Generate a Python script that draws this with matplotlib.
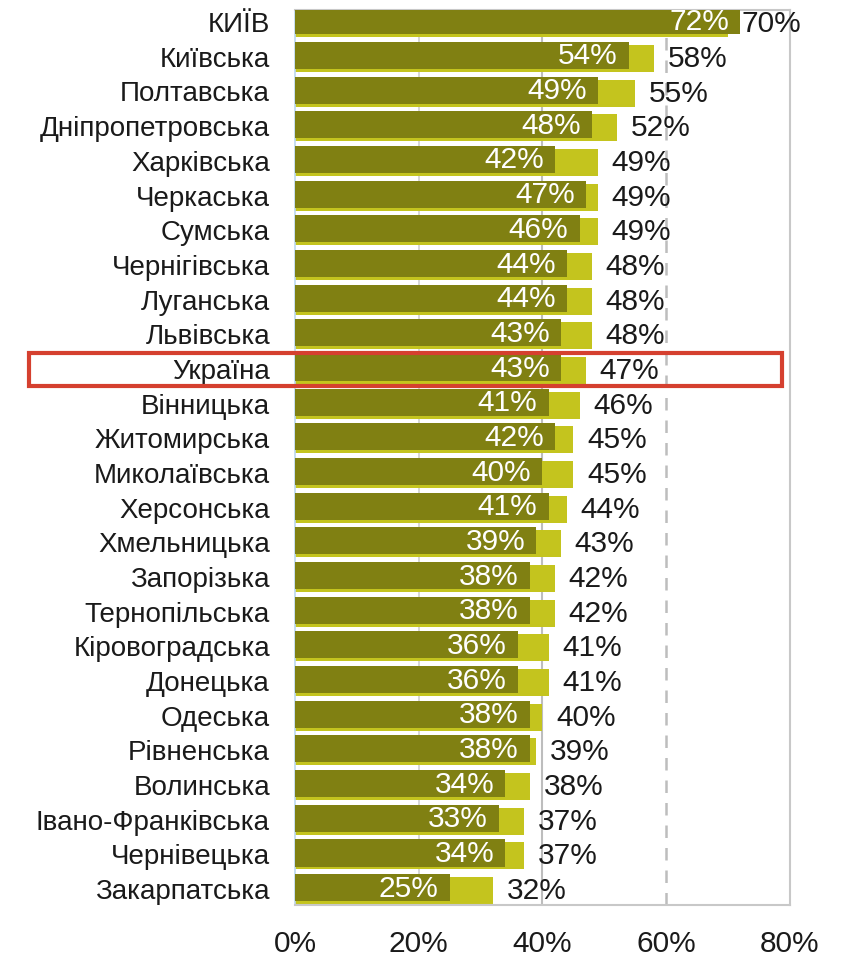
import matplotlib
matplotlib.use('Agg')
import matplotlib.pyplot as plt
from matplotlib.patches import Rectangle
from matplotlib.transforms import blended_transform_factory

plt.rcParams['font.family'] = ['Liberation Sans', 'DejaVu Sans']

# Data
regions = ['КИЇВ', 'Київська', 'Полтавська', 'Дніпропетровська', 'Харківська',
           'Черкаська', 'Сумська', 'Чернігівська', 'Луганська', 'Львівська',
           'Україна', 'Вінницька', 'Житомирська', 'Миколаївська', 'Херсонська',
           'Хмельницька', 'Запорізька', 'Тернопільська', 'Кіровоградська',
           'Донецька', 'Одеська', 'Рівненська', 'Волинська',
           'Івано-Франківська', 'Чернівецька', 'Закарпатська']
dark_values = [72, 54, 49, 48, 42, 47, 46, 44, 44, 43, 43, 41, 42, 40, 41,
               39, 38, 38, 36, 36, 38, 38, 34, 33, 34, 25]
light_values = [70, 58, 55, 52, 49, 49, 49, 48, 48, 48, 47, 46, 45, 45, 44,
                43, 42, 42, 41, 41, 40, 39, 38, 37, 37, 32]
x_ticks = [0, 20, 40, 60, 80]
highlight = 'Україна'

dark_color = '#808012'
light_color = '#C4C41E'

fig = plt.figure(figsize=(8.44, 9.6), dpi=100)
ax = fig.add_axes([0.3495, 0.0573, 0.5865, 0.9323])

y = list(range(len(regions)))
ax.barh([i + 0.045 for i in y], light_values, height=0.78, color=light_color, zorder=2)
ax.barh([i - 0.04 for i in y], dark_values, height=0.78, color=dark_color, zorder=3)

for i in y:
    ax.text(dark_values[i] - 1.8, i - 0.01, f'{dark_values[i]}%', ha='right', va='center',
            color='white', fontsize=21.5, zorder=4)
    ax.text(light_values[i] + 2.2, i + 0.06, f'{light_values[i]}%', ha='left', va='center',
            color='#1a1a1a', fontsize=21.5, zorder=4)

ax.set_xlim(0, 80)
ax.set_ylim(len(regions) - 0.54, -0.35)
ax.set_yticks(y)
ax.set_yticklabels(regions, fontsize=20)
ax.set_xticks(x_ticks)
ax.set_xticklabels([f'{t}%' for t in x_ticks], fontsize=21.5)
ax.tick_params(axis='both', length=0, colors='#1a1a1a')
ax.tick_params(axis='x', pad=18)
ax.tick_params(axis='y', pad=18)

# gridlines
ax.axvline(20, color='#d0d0d0', lw=1.2, zorder=1)
ax.axvline(40, color='#bdbdbd', lw=1.5, zorder=1)
ax.axvline(60, color='#bdbdbd', lw=1.8, ls=(0, (5, 4)), zorder=1)

for side in ['top', 'right', 'bottom']:
    ax.spines[side].set_color('#c8c8c8')
    ax.spines[side].set_linewidth(1.5)
ax.spines['left'].set_color('#bcd8ee')
ax.spines['left'].set_linewidth(1.2)

# red highlight box around the national average row
idx = regions.index(highlight)
trans = blended_transform_factory(fig.transFigure, ax.transData)
ax.add_patch(Rectangle((0.034, idx - 0.47), 0.892, 0.95, transform=trans,
                       fill=False, edgecolor='#D5402F', lw=3, clip_on=False, zorder=5))

plt.savefig('out.png', dpi=100)
